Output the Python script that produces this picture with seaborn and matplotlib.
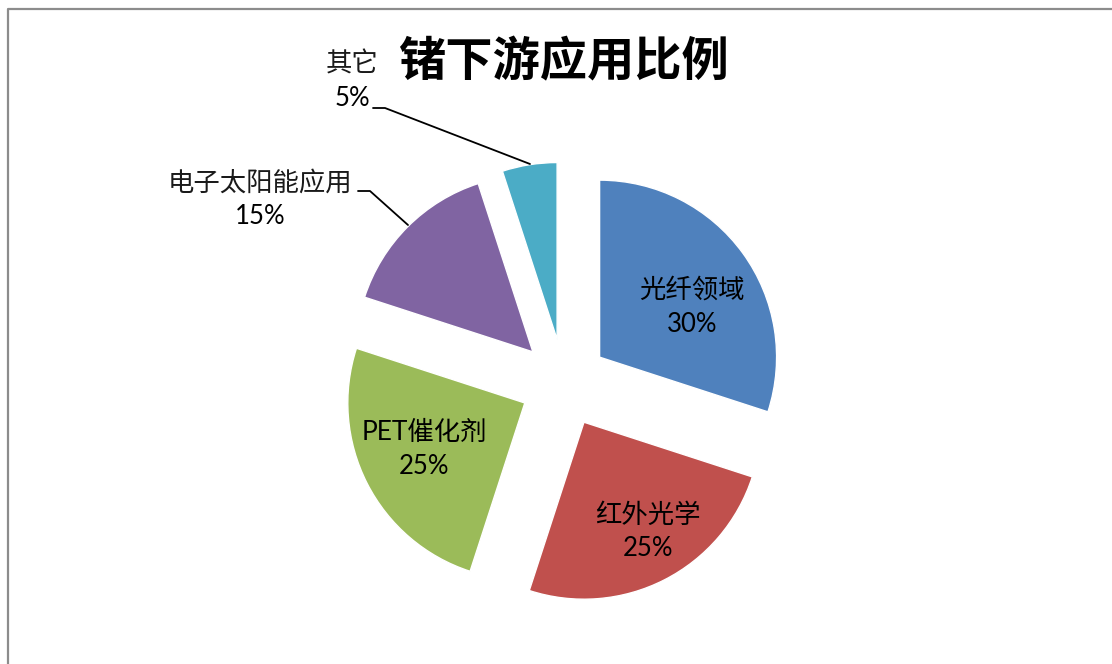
import numpy as np
import matplotlib.pyplot as plt
import seaborn as sns

# Daten: Anteile der Anwendungen (im Uhrzeigersinn ab 12 Uhr)
categories = ["光纤领域", "红外光学", "PET催化剂", "电子太阳能应用", "其它"]
shares = [30, 25, 25, 15, 5]
pct_labels = ["30%", "25%", "25%", "15%", "5%"]
title = "锗下游应用比例"

colors = sns.color_palette(["#4F81BD", "#C0504D", "#9BBB59", "#8064A2", "#4BACC6"])

sns.set_theme(style="white")
plt.rcParams['font.family'] = ['Lato', 'Noto Sans CJK SC', 'DejaVu Sans']

W, H = 1112, 664
fig = plt.figure(figsize=(W / 100, H / 100), dpi=100)
ax = fig.add_axes([0, 0, 1, 1])

def py(y):
    # Pixel-y (von oben) -> Daten-y
    return H - y

# Kuchen, jedes Stück gleich weit herausgezogen
cx, cy, R = 564, 383, 177
wedges, _ = ax.pie(shares, colors=colors, startangle=90, counterclock=False,
                   center=(cx, py(cy)), radius=R, explode=[44] * len(shares),
                   frame=True)
ax.set_aspect('equal')
ax.set_xlim(0, W)
ax.set_ylim(0, H)
ax.axis('off')

# Beschriftungen innen
inside = {0: (692, 307), 1: (648, 532), 2: (424, 449)}
for i, (x, y) in inside.items():
    ax.text(x, py(y - 17), categories[i], ha='center', va='center', fontsize=19, color='black')
    ax.text(x, py(y + 17), pct_labels[i], ha='center', va='center', fontsize=18.5, color='black')

# Beschriftungen aussen mit Fuehrungslinie
outside = {4: ((352, 81), [(373, 108), (385, 108), (530, 164)]),
           3: ((260, 200), [(358, 191), (370, 191), (408, 225)])}
for i, ((x, y), pts) in outside.items():
    ax.text(x, py(y - 17), categories[i], ha='center', va='center', fontsize=19, color='#1a1a1a')
    ax.text(x, py(y + 17), pct_labels[i], ha='center', va='center', fontsize=18.5, color='black')
    xs = [p[0] for p in pts]
    ys = [py(p[1]) for p in pts]
    ax.plot(xs, ys, color='black', lw=1.3)

# Titel
ax.text(563, py(62), title, ha='center', va='center', fontsize=34, fontweight='bold', color='black')

# Rahmen (nur links und oben sichtbar)
ax.plot([8, 8, W + 5], [py(H + 5), py(9), py(9)], color='#8c8c8c', lw=1.6, clip_on=False)

fig.savefig('out.png', dpi=100)
